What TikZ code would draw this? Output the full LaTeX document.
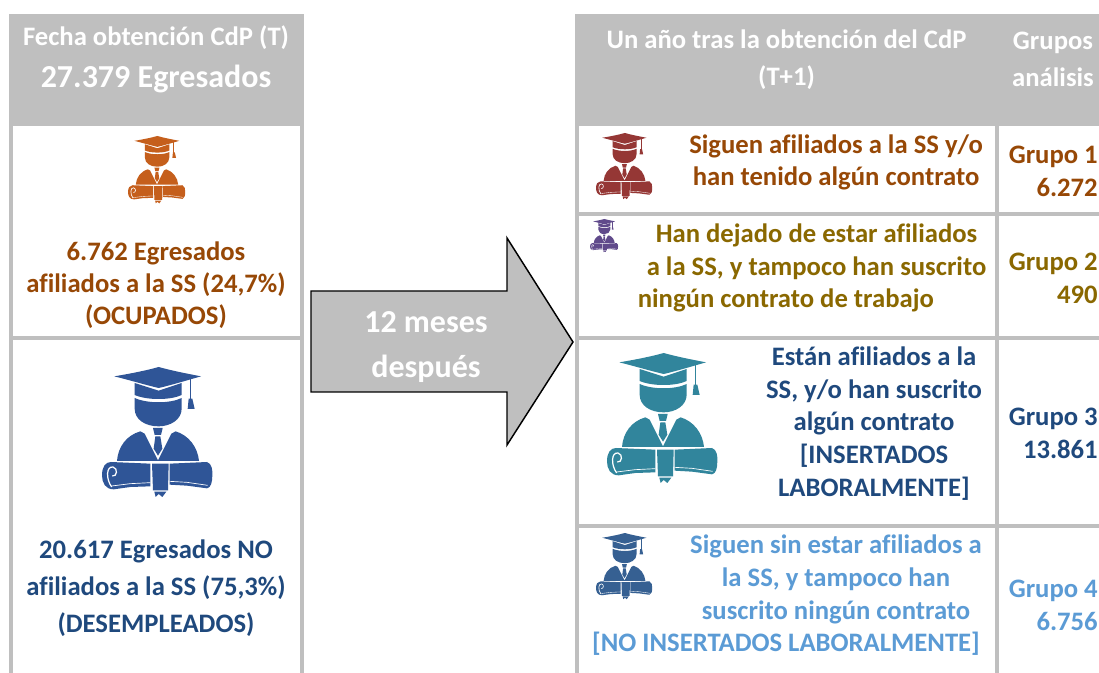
\documentclass[tikz,border=0pt]{standalone}
\usepackage{fontspec}
\setmainfont{Carlito}[BoldFont=Carlito Bold,Ligatures=NoCommon]
\definecolor{panelgray}{HTML}{BFBFBF}
\definecolor{txtbrown}{HTML}{974806}
\definecolor{txtolive}{HTML}{8A6800}
\definecolor{txtnavy}{HTML}{1F497D}
\definecolor{txtsky}{HTML}{5B9BD5}
\definecolor{icoorange}{HTML}{C55F1C}
\definecolor{icoblue}{HTML}{2F5597}
\definecolor{icored}{HTML}{953735}
\definecolor{icopurple}{HTML}{604A8B}
\definecolor{icoteal}{HTML}{31859C}
\definecolor{icosteel}{HTML}{366092}
\tikzset{
  gridbar/.style={fill=panelgray,draw=none},
  label/.style={font=\bfseries\fontsize{20}{24}\selectfont,align=center,inner sep=0pt},
  labelwide/.style={font=\bfseries\fontsize{20}{27.75}\selectfont,align=center,inner sep=0pt},
  labelmid/.style={font=\bfseries\fontsize{20}{24.5}\selectfont,align=center,inner sep=0pt},
  grouplabel/.style={font=\bfseries\fontsize{20}{24.6}\selectfont,align=right,inner sep=0pt,anchor=east},
  headlabel/.style={font=\bfseries\fontsize{20}{28}\selectfont,text=white,align=center,inner sep=0pt},
  arrowlabel/.style={font=\bfseries\fontsize{24}{33.75}\selectfont,text=white,align=center,inner sep=0pt}
}
\newcommand{\gradicon}[4]{%
\begin{scope}[shift={(#1,#2)},scale=#3/330]
\begin{scope}[shift={(-35,-50)}]
\fill[#4] (72,78) .. controls (120,70) and (170,60) .. (205,50) .. controls (240,60) and (290,70) .. (332,78) .. controls (290,90) and (240,105) .. (205,113) .. controls (170,105) and (120,90) .. (72,78) -- cycle;
\fill[#4] (133,98) -- (205,121) -- (274,98) -- (274,134) .. controls (240,150) and (170,150) .. (133,134) -- cycle;
\fill[#4] (133,143) .. controls (170,160) and (240,160) .. (274,143) -- (274,175) .. controls (274,208) and (240,228) .. (205,228) .. controls (165,228) and (133,208) .. (133,175) -- cycle;
\draw[#4,line width={#3/330*3.2pt}] (300,86) -- (300,150);
\fill[#4] (295,145) -- (306,145) -- (313,176) -- (292,176) -- cycle;
\fill[#4] (80,332) .. controls (83,290) and (108,255) .. (150,243) -- (163,250) -- (203,330) -- (243,250) -- (256,243) .. controls (295,255) and (322,290) .. (326,332) -- cycle;
\fill[#4] (188,233) -- (217,233) -- (212,254) -- (193,254) -- cycle;
\fill[#4] (195,258) -- (210,258) -- (216,295) -- (203,316) -- (190,295) -- cycle;
\fill[#4] (62,335) -- (180,340) -- (180,408) -- (120,410) -- (70,417) .. controls (45,417) and (35,397) .. (35,375) .. controls (35,350) and (45,335) .. (62,335) -- cycle;
\draw[white,line width={#3/330*2.8pt}] (64,410) .. controls (46,385) and (48,347) .. (68,350) .. controls (84,354) and (80,380) .. (66,377);
\draw[white,line width={#3/330*1.5pt}] (64,407) -- (120,400) -- (180,397);
\fill[#4] (238,340) -- (350,335) .. controls (365,340) and (367,360) .. (366,375) .. controls (366,395) and (362,412) .. (350,414) -- (290,406) -- (238,403) -- cycle;
\draw[white,line width={#3/330*1.5pt}] (238,393) -- (290,396) -- (352,405);
\fill[#4] (185,340) -- (235,340) -- (233,420) -- (188,420) -- cycle;
\fill[#4] (192,424) -- (228,424) -- (216,440) -- (205,431) -- (196,440) -- cycle;
\end{scope}
\end{scope}}
\begin{document}
\begin{tikzpicture}[x=0.75pt,y=-0.75pt]
\useasboundingbox (0,0) rectangle (1099,673);
\fill[white] (0,0) rectangle (1099,673);
% left panel
\fill[gridbar] (9,14) rectangle (304,126);
\fill[gridbar] (9,14) rectangle (13,673);
\fill[gridbar] (300,14) rectangle (304,673);
\fill[gridbar] (9,336) rectangle (304,340);
% right panel
\fill[gridbar] (575,14) rectangle (1099,126);
\fill[gridbar] (575,14) rectangle (579,673);
\fill[gridbar] (995,14) rectangle (999,673);
\fill[gridbar] (575,212) rectangle (1099,216);
\fill[gridbar] (575,336) rectangle (1099,340);
\fill[gridbar] (575,524) rectangle (1099,528);
% arrow
\draw[fill=panelgray,draw=black,line width=1.1pt,miter limit=10] (311,291) -- (507,291) -- (507,238) -- (573,342) -- (507,445) -- (507,392) -- (311,392) -- cycle;
\node[arrowlabel] (arrowtext) at (426,347) {12 meses\\después};
% headers
\node[headlabel] (headleftA) at (156,37.5) {Fecha obtención CdP (T)};
\node[headlabel,font=\bfseries\fontsize{24}{28}\selectfont] (headleftB) at (156,78.5) {27.379 Egresados};
\node[headlabel] (headright) at (786.5,59.5) {Un año tras la obtención del CdP\\(T+1)};
\node[headlabel] (headgroups) at (1053,59.5) {Grupos\\análisis};
% icons
\gradicon{128}{136}{57}{icoorange}
\gradicon{102}{367}{110}{icoblue}
\gradicon{596}{133}{56}{icored}
\gradicon{590}{219}{28}{icopurple}
\gradicon{607}{353}{110}{icoteal}
\gradicon{596}{533}{56}{icosteel}
% left texts
\node[label,text=txtbrown] (occupied) at (156,285) {6.762 Egresados\\afiliados a la SS (24,7\%)\\(OCUPADOS)};
\node[labelwide,text=txtnavy] (unemployed) at (156,588) {20.617 Egresados NO\\afiliados a la SS (75,3\%)\\(DESEMPLEADOS)};
% right texts
\node[labelmid,text=txtbrown] (rowA) at (836,162.5) {Siguen afiliados a la SS y/o\\han tenido algún contrato};
\node[labelmid,text=txtolive] (rowB) at (816.5,268) {Han dejado de estar afiliados\\a la SS, y tampoco han suscrito\\ningún contrato de trabajo\hspace*{46pt}};
\node[labelmid,text=txtnavy] (rowC) at (874,423.5) {Están afiliados a la\\SS, y/o han suscrito\\algún contrato\hspace*{10pt}\\{}[INSERTADOS\\LABORALMENTE]};
\node[labelmid,text=txtsky] (rowD) at (836,595.5) {Siguen sin estar afiliados a\\la SS, y tampoco han\\suscrito ningún contrato\\{}[NO INSERTADOS LABORALMENTE]\hspace*{75pt}};
% groups
\node[grouplabel,text=txtbrown] (grpA) at (1098,171) {Grupo 1\\6.272};
\node[grouplabel,text=txtolive] (grpB) at (1098,278) {Grupo 2\\490};
\node[grouplabel,text=txtnavy] (grpC) at (1098,433) {Grupo 3\\13.861};
\node[grouplabel,text=txtsky] (grpD) at (1098,605.5) {Grupo 4\\6.756};
\end{tikzpicture}
\end{document}
